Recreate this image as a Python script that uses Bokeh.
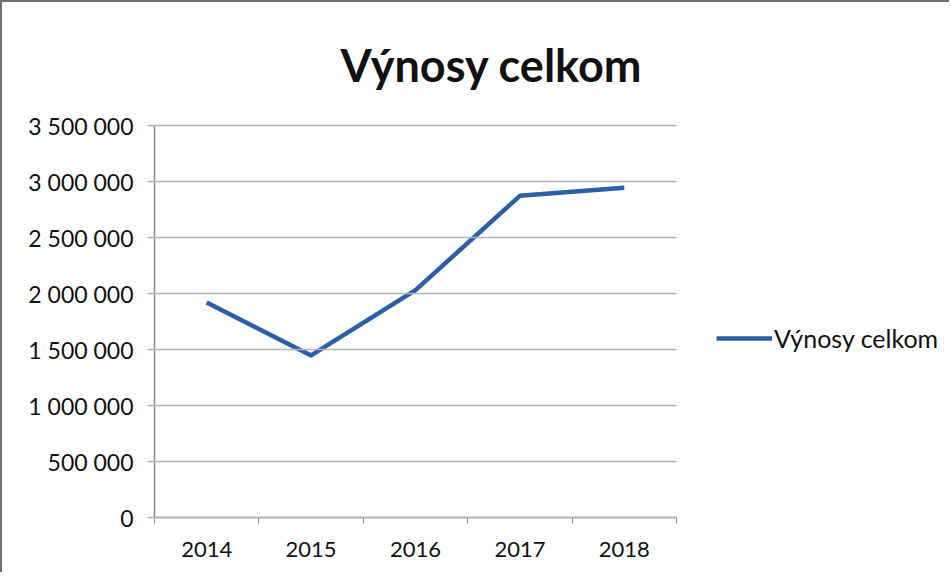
from bokeh.plotting import figure
from bokeh.models import FixedTicker, Range1d, Legend, LegendItem
from bokeh.embed import file_html
from bokeh.resources import INLINE

years = ["2014", "2015", "2016", "2017", "2018"]
vynosy = [1920000, 1447000, 2030000, 2872000, 2945000]
y_ticks = [0, 500000, 1000000, 1500000, 2000000, 2500000, 3000000, 3500000]
title_text = "Výnosy celkom"
series_name = "Výnosy celkom"

xs = [i + 0.5 for i in range(len(years))]
n = len(years)

FONT = "Lato"
TXT = "#111111"
AX = "#8c8c8c"
GRID = "#b4b4b4"
BLUE = "#2c5fa6"

W, H = 949, 572
LEFT, RIGHT_PLOT = 152, 674
TOP, BOTTOM_PLOT = 120, 517
frame_w = W - LEFT
x_end = n * frame_w / (RIGHT_PLOT - LEFT)

p = figure(width=W, height=H, output_backend="svg", toolbar_location=None,
           x_range=Range1d(0, x_end), y_range=Range1d(0, 3500000),
           min_border_left=LEFT, min_border_top=TOP - 2, min_border_right=0,
           min_border_bottom=H + 2 - BOTTOM_PLOT)
p.styles = {"border-top": "2px solid #707070", "border-left": "2px solid #707070"}

p.title.text = title_text
p.title.text_font = FONT
p.title.text_font_style = "bold"
p.title.text_font_size = "45px"
p.title.text_color = TXT
p.title.align = "left"
p.title.offset = 186
p.title.standoff = 67

p.outline_line_color = None
p.xgrid.visible = False
p.ygrid.visible = False

xa = p.xaxis[0]
xa.bounds = (0, n)
xa.ticker = FixedTicker(ticks=xs, minor_ticks=list(range(n + 1)))
xa.major_label_overrides = {x: y for x, y in zip(xs, years)}
xa.major_tick_out = 0
xa.major_tick_in = 0
xa.minor_tick_out = 6
xa.minor_tick_in = 0
xa.minor_tick_line_color = AX
xa.axis_line_color = AX
xa.axis_line_width = 1.5
xa.major_label_text_font = FONT
xa.major_label_text_font_size = "22px"
xa.major_label_text_color = TXT
xa.major_label_standoff = 18

# horizontal gridlines drawn as long inward y-axis ticks (end at the last category)
ya = p.yaxis[0]
ya.ticker = FixedTicker(ticks=y_ticks)
ya.major_label_overrides = {v: f"{v:,}".replace(",", " ") for v in y_ticks}
ya.major_tick_out = 7
ya.major_tick_in = RIGHT_PLOT - LEFT
ya.minor_tick_out = 0
ya.minor_tick_in = 0
ya.major_tick_line_color = GRID
ya.major_tick_line_width = 1.5
ya.axis_line_color = AX
ya.axis_line_width = 1.5
ya.major_label_text_font = FONT
ya.major_label_text_font_size = "23px"
ya.major_label_text_color = TXT
ya.major_label_standoff = 14

r = p.line(xs, vynosy, line_color=BLUE, line_width=4.5, line_join="round")

legend = Legend(items=[LegendItem(label=series_name, renderers=[r])],
                location=(714 - LEFT, 164), orientation="vertical",
                glyph_width=56, glyph_height=20, label_standoff=2,
                padding=0, margin=0, spacing=0,
                label_text_font=FONT, label_text_font_size="25px",
                label_text_color=TXT,
                border_line_color=None, background_fill_alpha=0)
p.add_layout(legend, "center")

open("out.html", "w").write(file_html(p, INLINE))
